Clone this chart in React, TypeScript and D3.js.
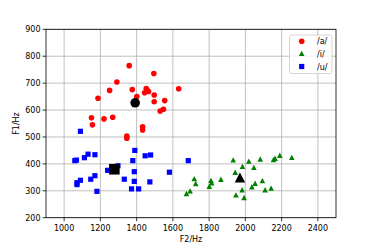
import React from 'react';
import * as d3 from 'd3';

// F2, F1 pairs
const vowelA: [number, number][] = [
  [1359, 765], [1495, 736], [1291, 704], [1251, 673], [1187, 644], [1376, 676],
  [1401, 650], [1453, 680], [1444, 664], [1466, 669], [1458, 673], [1497, 656],
  [1497, 631], [1555, 635], [1530, 596], [1548, 603], [1632, 679], [1151, 571],
  [1156, 545], [1220, 567], [1268, 573], [1346, 503], [1346, 495], [1433, 538],
  [1433, 526],
];
const vowelI: [number, number][] = [
  [1675, 288], [1695, 298], [1718, 343], [1726, 325], [1801, 315], [1810, 337],
  [1814, 328], [1865, 341], [1933, 413], [1944, 367], [1948, 283], [1984, 389],
  [1982, 302], [1993, 273], [2019, 408], [2047, 385], [2036, 313], [2054, 326],
  [2082, 416], [2094, 336], [2109, 302], [2142, 308], [2155, 414], [2164, 419],
  [2190, 430], [2256, 422],
];
const vowelU: [number, number][] = [
  [1090, 521], [1059, 412], [1068, 414], [1112, 423], [1132, 436], [1170, 434],
  [1071, 323], [1071, 330], [1090, 339], [1147, 343], [1170, 356], [1181, 298],
  [1240, 376], [1297, 393], [1332, 343], [1390, 450], [1379, 412], [1387, 371],
  [1387, 335], [1372, 307], [1411, 307], [1447, 430], [1477, 433], [1473, 333],
  [1581, 369], [1685, 412],
];
const centroidA: [number, number] = [1392, 627];
const centroidI: [number, number] = [1970, 346];
const centroidU: [number, number] = [1277, 380];

const xTicks = [1000, 1200, 1400, 1600, 1800, 2000, 2200, 2400];
const yTicks = [200, 300, 400, 500, 600, 700, 800, 900];
const legendLabels = ['/a/', '/i/', '/u/'];

const W = 374;
const H = 249;
const m = { left: 46, right: 336, top: 29.3, bottom: 217.7 };
const font = 'DejaVu Sans, sans-serif';

function tri(cx: number, cy: number, s: number) {
  const h = s * 0.95;
  return `M${cx},${cy - h * 0.6}L${cx + s / 2},${cy + h * 0.4}L${cx - s / 2},${cy + h * 0.4}Z`;
}

export default function App() {
  const x = d3.scaleLinear().domain([900, 2500]).range([m.left, m.right]);
  const y = d3.scaleLinear().domain([200, 900]).range([m.bottom, m.top]);

  return (
    <svg width={W} height={H} style={{ position: 'absolute', left: 0, top: 0, background: '#fff' }}>
      {/* grid */}
      {xTicks.map(t => (
        <line key={'gx' + t} x1={x(t)} x2={x(t)} y1={m.top} y2={m.bottom} stroke="#b0b0b0" strokeWidth={0.8} />
      ))}
      {yTicks.map(t => (
        <line key={'gy' + t} x1={m.left} x2={m.right} y1={y(t)} y2={y(t)} stroke="#b0b0b0" strokeWidth={0.8} />
      ))}

      {vowelA.map((d, i) => (
        <circle key={'a' + i} cx={x(d[0])} cy={y(d[1])} r={2.8} fill="#ff0000" />
      ))}
      {vowelI.map((d, i) => (
        <path key={'i' + i} d={tri(x(d[0]), y(d[1]), 5.6)} fill="#008000" />
      ))}
      {vowelU.map((d, i) => (
        <rect key={'u' + i} x={x(d[0]) - 2.6} y={y(d[1]) - 2.6} width={5.2} height={5.2} fill="#0000ff" />
      ))}

      <circle cx={x(centroidA[0])} cy={y(centroidA[1])} r={4.8} fill="#000" />
      <path d={tri(x(centroidI[0]), y(centroidI[1]), 10.5)} fill="#000" />
      <rect x={x(centroidU[0]) - 5.3} y={y(centroidU[1]) - 5.3} width={10.6} height={10.6} fill="#000" />

      {/* frame */}
      <rect x={m.left} y={m.top} width={m.right - m.left} height={m.bottom - m.top} fill="none" stroke="#000" strokeWidth={0.8} />

      {/* x axis */}
      {xTicks.map(t => (
        <g key={'xt' + t}>
          <line x1={x(t)} x2={x(t)} y1={m.bottom} y2={m.bottom + 3.5} stroke="#000" strokeWidth={0.8} />
          <text x={x(t)} y={m.bottom + 13} textAnchor="middle" fontFamily={font} fontSize={8} fill="#000">{t}</text>
        </g>
      ))}
      {yTicks.map(t => (
        <g key={'yt' + t}>
          <line x1={m.left - 3.5} x2={m.left} y1={y(t)} y2={y(t)} stroke="#000" strokeWidth={0.8} />
          <text x={m.left - 5.5} y={y(t) + 2.9} textAnchor="end" fontFamily={font} fontSize={8} fill="#000">{t}</text>
        </g>
      ))}
      <text x={(m.left + m.right) / 2} y={242} textAnchor="middle" fontFamily={font} fontSize={8} fill="#000">F2/Hz</text>
      <text transform={`translate(18.5,${(m.top + m.bottom) / 2}) rotate(-90)`} textAnchor="middle" fontFamily={font} fontSize={8} fill="#000">F1/Hz</text>

      {/* legend */}
      <rect x={289.5} y={35} width={42.5} height={38.5} rx={2} fill="#fff" fillOpacity={0.8} stroke="#cccccc" strokeWidth={0.8} />
      {legendLabels.map((l, i) => {
        const cy = 41.3 + i * 12.6;
        return (
          <g key={l}>
            {i === 0 && <circle cx={301.7} cy={cy} r={2.8} fill="#ff0000" />}
            {i === 1 && <path d={tri(301.7, cy, 5.6)} fill="#008000" />}
            {i === 2 && <rect x={301.7 - 2.6} y={cy - 2.6} width={5.2} height={5.2} fill="#0000ff" />}
            <text x={317} y={cy + 3} fontFamily={font} fontSize={8} fill="#000">{l}</text>
          </g>
        );
      })}
    </svg>
  );
}
